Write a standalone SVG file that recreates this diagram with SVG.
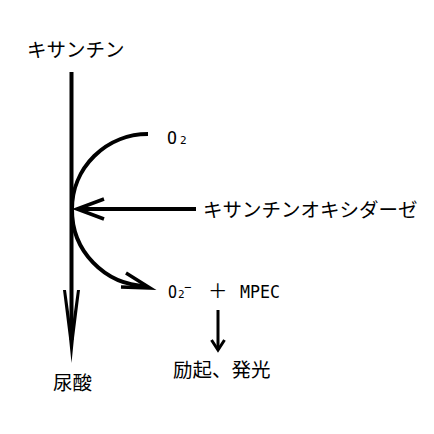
<svg xmlns="http://www.w3.org/2000/svg" width="434" height="434" viewBox="0 0 434 434">
<style>
.jp{font-family:"Noto Sans CJK JP","Noto Sans",sans-serif;font-size:19.5px;fill:#000}
.lat{font-family:"DejaVu Sans Mono","Liberation Mono",monospace;font-size:17.5px;fill:#000}
.sub{font-family:"DejaVu Sans Mono","Liberation Mono",monospace;font-size:11px;fill:#000}
.ln{fill:none;stroke:#000;stroke-width:4}
.hd{fill:none;stroke:#000;stroke-width:3.5;stroke-linejoin:miter;stroke-linecap:butt}
</style>
<rect width="434" height="434" fill="#fff"/>
<g id="connectors">
  <line class="ln" x1="71.5" y1="72" x2="71.5" y2="340"/>
  <path d="M63,290 L66,290 L71.5,330 L77,290 L80,290 L74,338 L71.5,363 L69,338 Z" fill="#000"/>
  <path class="ln" d="M148,134 A76,75 0 0 0 72,209 A76,76 0 0 0 146,286"/>
  <polyline class="hd" points="126,273 150,288 121,287"/>
  <line class="ln" x1="196" y1="209" x2="77" y2="209"/>
  <polyline class="hd" points="104,199 77,209 104,219"/>
  <line x1="218" y1="310" x2="218" y2="350" stroke="#000" stroke-width="3"/>
  <polyline points="211.5,340 218,350 224.5,340" fill="none" stroke="#000" stroke-width="3"/>
</g>
<g id="xanthine"><text class="jp" x="27" y="57">キサンチン</text></g>
<g id="o2"><text class="lat" x="167" y="144" textLength="10" lengthAdjust="spacingAndGlyphs">O</text><text class="sub" x="180" y="144">2</text></g>
<g id="xo"><text class="jp" x="203" y="217">キサンチンオキシダーゼ</text></g>
<g id="products">
  <text class="lat" x="168" y="298" textLength="9" lengthAdjust="spacingAndGlyphs">O</text><text class="sub" x="178" y="298">2</text>
  <text class="sub" x="184" y="291" style="font-size:12px">−</text>
  <text class="jp" x="208" y="298">＋</text>
  <text class="lat" x="240" y="298" textLength="40" lengthAdjust="spacingAndGlyphs">MPEC</text>
</g>
<g id="uric"><text class="jp" x="53" y="390">尿酸</text></g>
<g id="light"><text class="jp" x="173" y="377">励起、発光</text></g>
</svg>
